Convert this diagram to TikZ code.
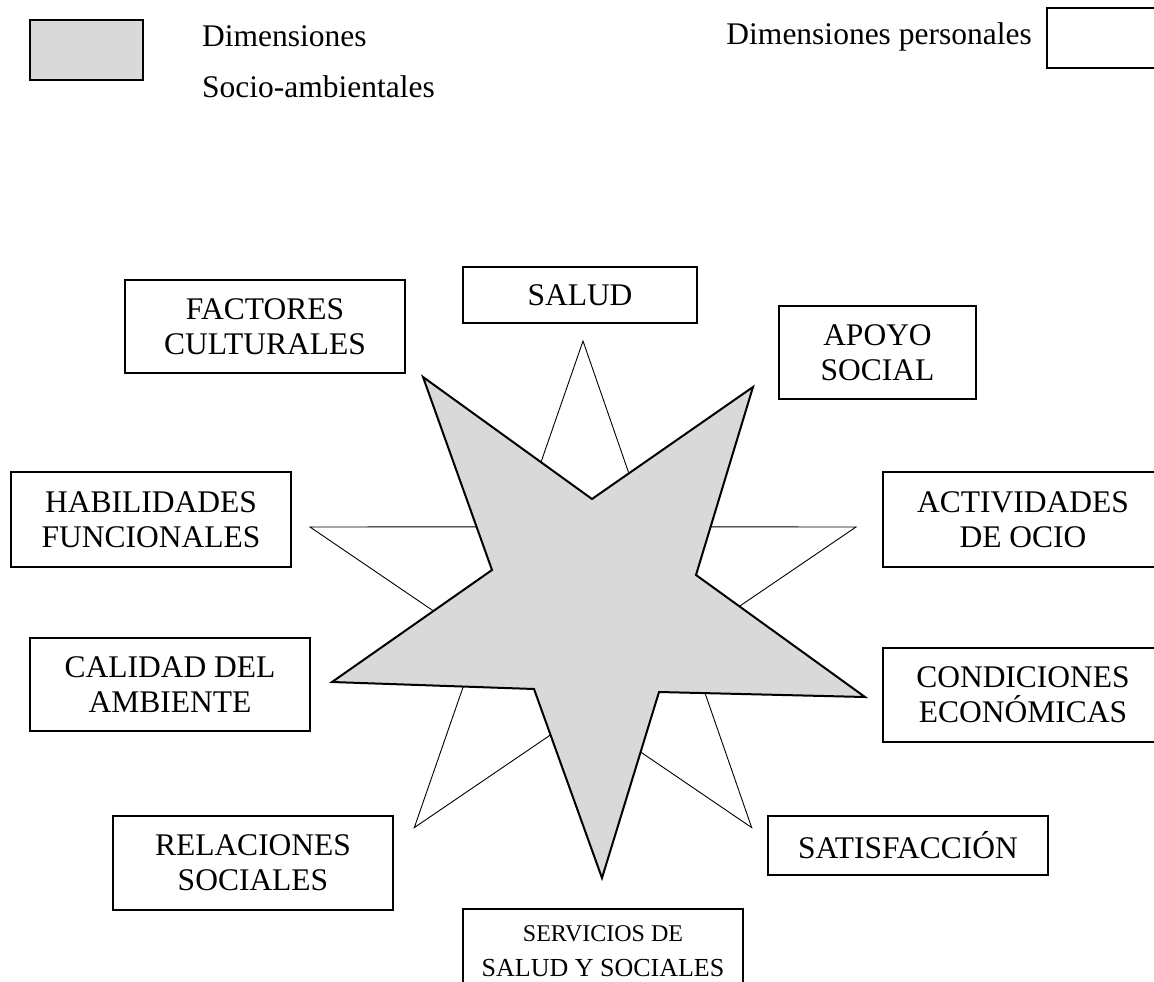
\documentclass[tikz,border=0pt]{standalone}
\usepackage{fontspec}
\setmainfont{Liberation Serif}
\definecolor{stargray}{RGB}{217,217,217}
\tikzset{
  dimbox/.style={draw=black, line width=1.6pt, fill=white, inner sep=0pt, align=center,
    font=\fontsize{31.5}{35}\selectfont},
  lbl/.style={inner sep=0pt, font=\fontsize{31.5}{35}\selectfont},
  whitestar/.style={draw=black, line width=0.9pt, fill=white, line join=miter},
  graystar/.style={draw=black, line width=2pt, fill=stargray, line join=miter},
}
\begin{document}
\begin{tikzpicture}[x=1pt,y=-1pt]
\useasboundingbox (0,0) rectangle (1154,982);
% legend
\node[draw=black, line width=1.6pt, fill=stargray, minimum width=113pt, minimum height=60pt, inner sep=0pt] (lg) at (86.5,50) {};
\node[lbl, anchor=base west] (lgt1) at (202,47) {Dimensiones};
\node[lbl, anchor=base west] (lgt2) at (202,97) {Socio-ambientales};
\node[lbl, anchor=base east] (lpt) at (1032,45) {Dimensiones personales};
\node[draw=black, line width=1.6pt, fill=white, minimum width=113pt, minimum height=60pt, inner sep=0pt] (lp) at (1103.5,38) {};
% white star (personal dimensions)
\coordinate (w1) at (583,341);
\coordinate (w2) at (518.6,526.8);
\coordinate (w3) at (310,527);
\coordinate (w4) at (478.8,641.8);
\coordinate (w5) at (414.3,827.6);
\coordinate (w6) at (583,712.8);
\coordinate (w7) at (751.7,827.6);
\coordinate (w8) at (687.2,641.8);
\coordinate (w9) at (856,527);
\coordinate (w10) at (647.4,526.8);
\draw[whitestar] (w1) -- (w2) -- (w3) -- (w4) -- (w5) -- (w6) -- (w7) -- (w8) -- (w9) -- (w10) -- cycle;
% gray star (socio-environmental dimensions)
\coordinate (g1) at (423,377);
\coordinate (g2) at (592,499);
\coordinate (g3) at (753,387);
\coordinate (g4) at (696,575);
\coordinate (g5) at (865,697);
\coordinate (g6) at (659,692);
\coordinate (g7) at (602,878);
\coordinate (g8) at (534,689);
\coordinate (g9) at (332,682);
\coordinate (g10) at (492,570);
\draw[graystar] (g1) -- (g2) -- (g3) -- (g4) -- (g5) -- (g6) -- (g7) -- (g8) -- (g9) -- (g10) -- cycle;
% boxes
\node[dimbox, minimum width=280pt, minimum height=93pt] (fc) at (265,326.5) {FACTORES\\CULTURALES};
\node[dimbox, minimum width=234pt, minimum height=56pt] (sa) at (580,295) {SALUD};
\node[dimbox, minimum width=197pt, minimum height=93pt] (ap) at (877.5,352.5) {APOYO\\SOCIAL};
\node[dimbox, minimum width=280pt, minimum height=95pt] (hf) at (151,519.5) {HABILIDADES\\FUNCIONALES};
\node[dimbox, minimum width=280pt, minimum height=95pt] (ao) at (1023,519.5) {ACTIVIDADES\\DE OCIO};
\node[dimbox, minimum width=280pt, minimum height=93pt] (ca) at (170,684.5) {CALIDAD DEL\\AMBIENTE};
\node[dimbox, minimum width=280pt, minimum height=94pt] (ce) at (1023,695) {CONDICIONES\\ECONÓMICAS};
\node[dimbox, minimum width=280pt, minimum height=94pt] (rs) at (253,863) {RELACIONES\\SOCIALES};
\node[dimbox, minimum width=280pt, minimum height=59pt] (st) at (908,845.5) {SATISFACCIÓN};
\node[dimbox, minimum width=280pt, minimum height=84pt] (ss) at (603,951)
  {{\fontsize{24}{30}\selectfont SERVICIOS DE}\\{\fontsize{26}{30}\selectfont SALUD Y SOCIALES}};
\end{tikzpicture}
\end{document}
